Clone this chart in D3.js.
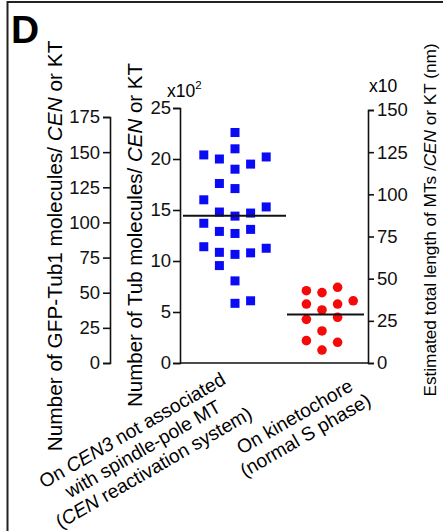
<!DOCTYPE html>
<html>
<head>
<meta charset="utf-8">
<script src="https://cdn.jsdelivr.net/npm/d3@7"></script>
<style>
  body { margin: 0; background: #fff; }
  svg { display: block; font-family: "Liberation Sans", Arial, Helvetica, sans-serif; }
</style>
</head>
<body>
<svg width="443" height="531"></svg>
<script>
// categories on the x axis
const categories = ["cen", "kt"];

// Tub molecules per CEN3 (x10^2)
const cenValues = [22.6, 20.4, 20.0, 21.0, 19.0, 19.5, 20.2, 17.6, 17.1, 16.0, 15.3, 14.8, 14.4, 14.7,
  13.7, 12.9, 12.7, 13.1, 11.4, 10.85, 10.65, 10.8, 11.25, 9.55, 8.05, 5.85, 6.1];
// scatter column of each point (-2 .. 2)
const cenLanes = [0, -2, -1, 0, 0, 1, 2, -1, 0, -2, 2, -1, 0, 1, -2, -1, 0, 1, -2, -1, 0, 1, 2, -1, 0, 0, 1];

// Tub molecules per kinetochore (x10^2)
const ktValues = [7.09, 6.9, 7.42, 5.78, 5.78, 6.1, 5.2, 4.28, 4.48, 3.14, 2.19, 2.03, 1.27];
const ktLanes = [-1, 0, 1, -1, 1, 2, 0, -1, 1, 0, -1, 1, 0];

// axis ticks
const gfpTicks = [0, 25, 50, 75, 100, 125, 150, 175];
const tubTicks = [0, 5, 10, 15, 20, 25];
const lengthTicks = [0, 25, 50, 75, 100, 125, 150];

const svg = d3.select("svg");

let bottom = 363;
let leftAxisX = 110, midAxisX = 180, rightAxisX = 368;
let laneWidth = 15.6;

let y = d3.scaleLinear().domain([0, 25]).range([bottom, 108]);
let yGfp = d3.scaleLinear().domain([0, 175]).range([bottom, 117]);
let yLen = d3.scaleLinear().domain([0, 150]).range([bottom, 110]);
let x = d3.scalePoint().domain(categories).range([235, 322]);
let lane = d3.scaleLinear().domain([0, 1]).range([0, laneWidth]);

// frame around the panel
svg.append("path")
  .attr("d", "M7.5,531V2H443")
  .attr("fill", "none")
  .attr("stroke", "#222")
  .attr("stroke-width", 2);

// panel letter
svg.append("text")
  .text("D")
  .attr("x", 11)
  .attr("y", 43)
  .attr("font-size", 39)
  .attr("font-weight", "bold");

function styleAxis(g) {
  g.selectAll("path, line").attr("stroke", "#111").attr("stroke-width", 1.6);
  g.selectAll("text").attr("font-size", 18.5).attr("fill", "#111").attr("font-family", null);
}

// left axis: GFP-Tub1 molecules
svg.append("g")
  .attr("transform", `translate(${leftAxisX},0)`)
  .call(d3.axisLeft(yGfp).tickValues(gfpTicks).tickSize(7).tickPadding(3))
  .call(styleAxis);

// middle axis: Tub molecules x10^2
svg.append("g")
  .attr("transform", `translate(${midAxisX},0)`)
  .call(d3.axisLeft(y).tickValues(tubTicks).tickSize(7).tickPadding(2))
  .call(styleAxis);

// right axis: MT length x10 nm
svg.append("g")
  .attr("transform", `translate(${rightAxisX},0)`)
  .call(d3.axisRight(yLen).tickValues(lengthTicks).tickSize(6).tickPadding(3))
  .call(styleAxis);

// x axis baseline
svg.append("line")
  .attr("x1", midAxisX).attr("x2", rightAxisX)
  .attr("y1", y(0)).attr("y2", y(0))
  .attr("stroke", "#111").attr("stroke-width", 1.6);

// multipliers
let m1 = svg.append("text").attr("x", 167).attr("y", 97).attr("font-size", 17.5);
m1.append("tspan").text("x10");
m1.append("tspan").text("2").attr("font-size", 11.5).attr("dy", -8);
svg.append("text").text("x10").attr("x", 369).attr("y", 92).attr("font-size", 17.5);

// axis titles
function title(xPos, yPos, size, parts) {
  let t = svg.append("text")
    .attr("transform", `translate(${xPos},${yPos}) rotate(-90)`)
    .attr("text-anchor", "middle")
    .attr("font-size", size);
  parts.forEach(p => {
    t.append("tspan").text(p[0]).attr("font-style", p[1] ? "italic" : null);
  });
}
title(62, 246, 20.8, [["Number of GFP-Tub1 molecules/ "], ["CEN", true], [" or KT"]]);
title(142, 235, 20.5, [["Number of Tub molecules/ "], ["CEN", true], [" or KT"]]);
title(436, 220, 17.2, [["Estimated total length of MTs /"], ["CEN", true], [" or KT (nm)"]]);

// data points
let cenData = cenValues.map((v, i) => ({ value: v, lane: cenLanes[i] }));
let ktData = ktValues.map((v, i) => ({ value: v, lane: ktLanes[i] }));
let sq = 9;

svg.append("g")
  .selectAll("rect")
  .data(cenData)
  .enter()
  .append("rect")
  .attr("x", d => x("cen") + lane(d.lane) - sq / 2)
  .attr("y", d => y(d.value) - sq / 2)
  .attr("width", sq)
  .attr("height", sq)
  .attr("fill", "#0a0af5");

svg.append("g")
  .selectAll("circle")
  .data(ktData)
  .enter()
  .append("circle")
  .attr("cx", d => x("kt") + lane(d.lane))
  .attr("cy", d => y(d.value))
  .attr("r", 4.8)
  .attr("fill", "#f50a0a");

// mean lines
let means = [
  { cat: "cen", value: d3.mean(cenValues), left: 52, right: 51 },
  { cat: "kt", value: d3.mean(ktValues), left: 35, right: 42 }
];
svg.append("g")
  .selectAll("line")
  .data(means)
  .enter()
  .append("line")
  .attr("x1", d => x(d.cat) - d.left)
  .attr("x2", d => x(d.cat) + d.right)
  .attr("y1", d => y(d.value))
  .attr("y2", d => y(d.value))
  .attr("stroke", "#111")
  .attr("stroke-width", 2);

// category labels, rotated
let lh = 21.5;
let catLabels = [
  { cat: "cen", dx: -92, dy: 86, lines: [
    [["On "], ["CEN3", true], [" not associated"]],
    [["with spindle-pole MT"]],
    [["("], ["CEN", true], [" reactivation system)"]]
  ] },
  { cat: "kt", dx: -22, dy: 63, lines: [
    [["On kinetochore"]],
    [["(normal S phase)"]]
  ] }
];
catLabels.forEach(l => {
  let t = svg.append("text")
    .attr("transform", `translate(${x(l.cat) + l.dx},${y(0) + l.dy}) rotate(-30)`)
    .attr("text-anchor", "middle")
    .attr("font-size", 19.2);
  let n = l.lines.length;
  l.lines.forEach((parts, i) => {
    let line = t.append("tspan")
      .attr("x", 0)
      .attr("y", (i - (n - 1) / 2) * lh + 6.5);
    parts.forEach(p => {
      line.append("tspan").text(p[0]).attr("font-style", p[1] ? "italic" : null);
    });
  });
});
</script>
</body>
</html>
